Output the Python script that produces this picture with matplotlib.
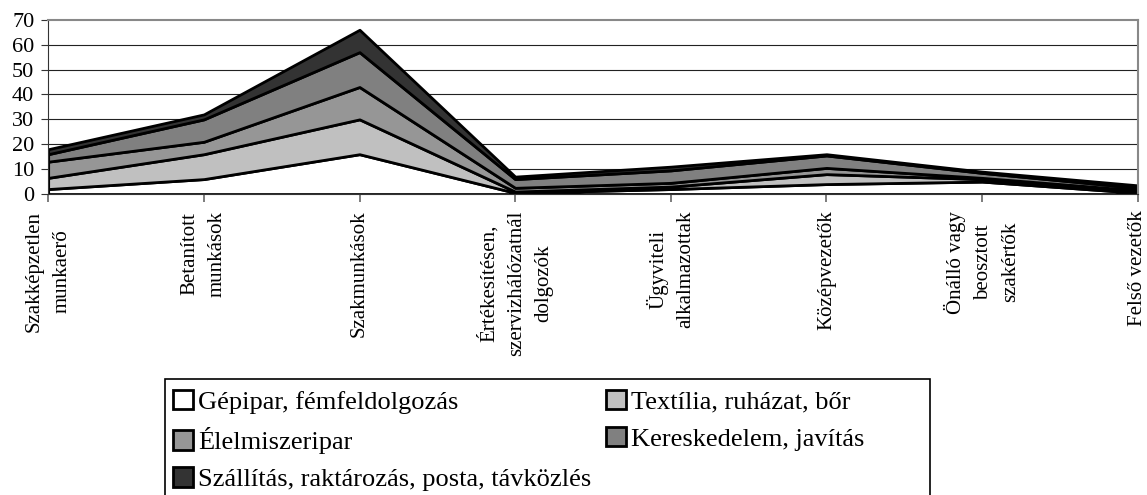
import numpy as np
import matplotlib
matplotlib.use("Agg")
import matplotlib.pyplot as plt
from matplotlib.patches import Rectangle

plt.rcParams['font.family'] = ['Liberation Serif', 'DejaVu Serif']

categories = ['Szakképzetlen\nmunkaerő', 'Betanított\nmunkások', 'Szakmunkások',
              'Értékesítésen,\nszervizhálózatnál\ndolgozók', 'Ügyviteli\nalkalmazottak',
              'Középvezetők', 'Önálló vagy\nbeosztott\nszakértők', 'Felső vezetők']
series_names = ['Gépipar, fémfeldolgozás', 'Textília, ruházat, bőr', 'Élelmiszeripar',
                'Kereskedelem, javítás', 'Szállítás, raktározás, posta, távközlés']
gepipar = [2, 6, 16, 0.5, 2, 4, 5, 0.5]
textil = [4.5, 10, 14, 0.5, 1, 4, 1, 0.5]
elelmiszer = [6.5, 5, 13, 1.5, 1.5, 2.5, 0.5, 0.5]
kereskedelem = [3, 9, 14, 3.5, 5, 5, 2, 1]
szallitas = [2, 2, 9, 1, 1.5, 0.5, 0.5, 1]
colors = ['#ffffff', '#c0c0c0', '#969696', '#808080', '#333333']

fig = plt.figure(figsize=(11.47, 4.95), dpi=100)
ax = fig.add_axes([0.042, 0.608, 0.950, 0.352])

x = np.arange(len(categories))
polys = ax.stackplot(x, gepipar, textil, elelmiszer, kereskedelem, szallitas,
                     colors=colors, edgecolor='black', linewidth=2, labels=series_names)

ax.set_xlim(0, len(categories) - 1)
ax.set_ylim(0, 70)
ax.set_yticks(range(0, 71, 10))
for yv in range(10, 70, 10):
    ax.axhline(yv, color='#222222', lw=0.8, zorder=0)
ax.set_xticks(x)
ax.set_xticklabels(categories, rotation=90, va='top', ha='center',
                   fontsize=15, linespacing=1.6)
ax.tick_params(axis='x', length=6, color='#666666', width=1.2, pad=6)
ax.tick_params(axis='y', length=5, color='#333333', labelsize=16, pad=5)
for s in ['top', 'right']:
    ax.spines[s].set_color('#888888')
    ax.spines[s].set_linewidth(1.5)
ax.spines['left'].set_color('#333333')
ax.spines['bottom'].set_color('#333333')

order = [0, 2, 4, 1, 3]
handles = [polys[i] for i in order]
labels = [series_names[i] for i in order]
fig.legend(handles, labels, ncol=2, loc='upper left',
           bbox_to_anchor=(173 / 1147, 1 - 390 / 495),
           frameon=False, fontsize=19, handlelength=0.75, handleheight=0.75,
           handletextpad=0.2, columnspacing=0.55, labelspacing=0.5,
           borderpad=0, borderaxespad=0)
fig.patches.append(Rectangle((165 / 1147, -0.01), 765 / 1147, 1 - 379 / 495 + 0.01,
                             transform=fig.transFigure, fill=False,
                             edgecolor='black', lw=1.2))

fig.savefig('out.png', dpi=100)
